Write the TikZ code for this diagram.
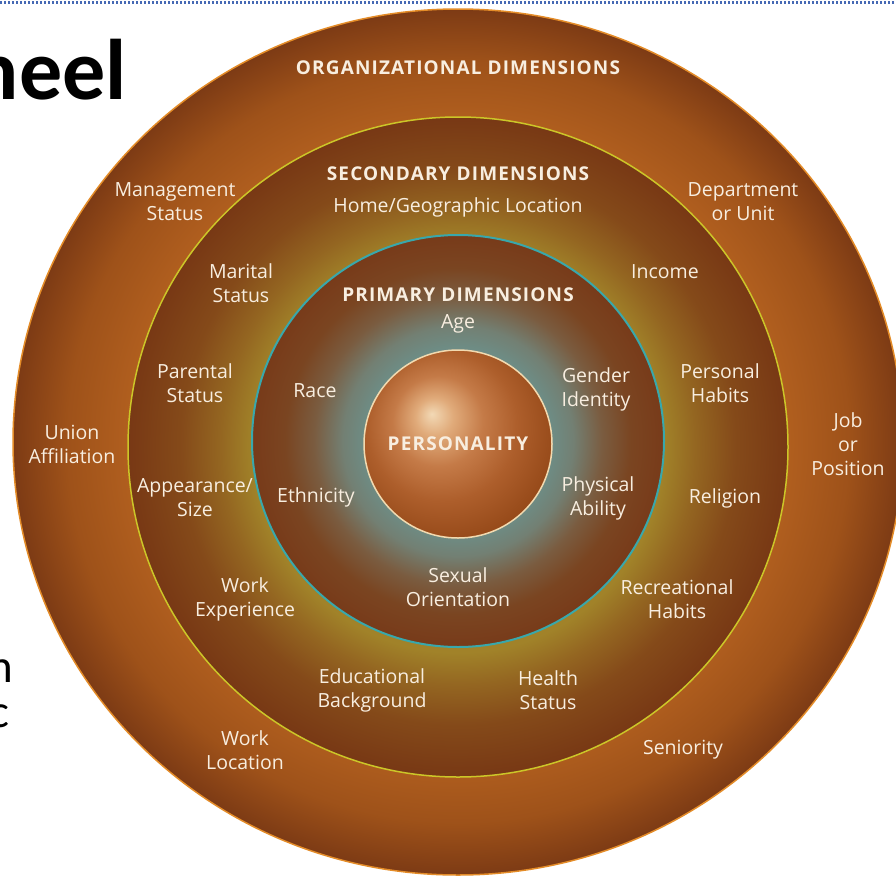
\documentclass[tikz,border=0pt]{standalone}
\usepackage{fontspec}
\newfontfamily\wheelfont{Open Sans}
\newfontfamily\headfont[LetterSpace=6]{Open Sans}
\newfontfamily\slidefont{Carlito}

% ring shadings: 25bp is the rim of the filled shape
\pgfdeclareradialshading{orgring}{\pgfpoint{0bp}{0bp}}{%
  rgb(0bp)=(0.69,0.37,0.12);
  rgb(18.6bp)=(0.69,0.37,0.12);
  rgb(22bp)=(0.62,0.32,0.10);
  rgb(25bp)=(0.49,0.23,0.08);
  rgb(50bp)=(0.49,0.23,0.08)}
\pgfdeclareradialshading{secring}{\pgfpoint{0bp}{0bp}}{%
  rgb(0bp)=(0.63,0.51,0.16);
  rgb(15.6bp)=(0.63,0.51,0.16);
  rgb(18bp)=(0.58,0.40,0.13);
  rgb(21bp)=(0.52,0.29,0.10);
  rgb(25bp)=(0.47,0.22,0.08);
  rgb(50bp)=(0.47,0.22,0.08)}
\pgfdeclareradialshading{primring}{\pgfpoint{0bp}{0bp}}{%
  rgb(0bp)=(0.43,0.55,0.52);
  rgb(11.4bp)=(0.43,0.55,0.52);
  rgb(14bp)=(0.45,0.50,0.45);
  rgb(17.5bp)=(0.48,0.36,0.25);
  rgb(21bp)=(0.48,0.27,0.13);
  rgb(25bp)=(0.47,0.23,0.10);
  rgb(50bp)=(0.47,0.23,0.10)}
\pgfdeclareradialshading{personaball}{\pgfpoint{-7bp}{8bp}}{%
  rgb(0bp)=(0.95,0.85,0.71);
  rgb(5bp)=(0.88,0.67,0.48);
  rgb(12bp)=(0.77,0.48,0.28);
  rgb(20bp)=(0.68,0.37,0.17);
  rgb(29bp)=(0.59,0.29,0.10);
  rgb(37bp)=(0.53,0.25,0.08);
  rgb(50bp)=(0.53,0.25,0.08)}

\definecolor{labelcream}{RGB}{248,238,224}
\definecolor{rimorange}{RGB}{228,140,40}
\definecolor{ringyellow}{RGB}{204,198,40}
\definecolor{ringteal}{RGB}{56,168,172}
\definecolor{ballrim}{RGB}{242,218,176}
\definecolor{dotblue}{RGB}{70,105,180}

\begin{document}
\begin{tikzpicture}[x=1pt,y=-1pt,
  lbl/.style={text=labelcream, align=center, inner sep=0pt,
    font=\wheelfont\fontsize{19.5}{24}\selectfont},
  hdr/.style={text=labelcream, align=center, inner sep=0pt,
    font=\headfont\bfseries\fontsize{19}{22}\selectfont},
  slidetext/.style={text=black, inner sep=0pt}]

\useasboundingbox (0,0) rectangle (896,878);
\clip (0,0) rectangle (896,878);
\fill[white] (0,0) rectangle (896,878);

% slide header rule and title fragment
\draw[dotblue, line width=2.5pt, dash pattern=on 1.5pt off 2.5pt] (0,2.5) -- (896,2.5);
\node[slidetext, anchor=base east, font=\slidefont\bfseries\fontsize{86}{90}\selectfont] (title) at (127,99) {heel};
\node[slidetext, anchor=base east, font=\slidefont\fontsize{47}{50}\selectfont] (frag1) at (13,682) {n};
\node[slidetext, anchor=base east, font=\slidefont\fontsize{47}{50}\selectfont] (frag2) at (10,727) {c};

% the wheel
\path[shading=orgring] (458,442) ellipse [x radius=445pt, y radius=433pt];
\draw[rimorange, line width=1.5pt] (458,442) ellipse [x radius=445pt, y radius=433pt];
\path[shading=secring] (458,447) circle [radius=330pt];
\draw[ringyellow, line width=1.5pt] (458,447) circle [radius=330pt];
\path[shading=primring] (458,441) circle [radius=206pt];
\draw[ringteal, line width=2pt] (458,441) circle [radius=206pt];
\path[shading=personaball] (458,444) circle [radius=94pt];
\draw[ballrim, line width=1.5pt] (458,444) circle [radius=94pt];

% organizational dimensions
\node[hdr] (org) at (458,68) {ORGANIZATIONAL DIMENSIONS};
\node[lbl] (mgmt) at (175,202) {Management\\Status};
\node[lbl] (dept) at (743,202) {Department\\or Unit};
\node[lbl] (union) at (72,444) {Union\\Affiliation};
\node[lbl] (job) at (848,444) {Job\\or\\Position};
\node[lbl] (workloc) at (245,750) {Work\\Location};
\node[lbl] (senior) at (683,750) {Seniority};

% secondary dimensions
\node[hdr] (sec) at (458,174) {SECONDARY DIMENSIONS};
\node[lbl] (home) at (458,207) {Home/Geographic Location};
\node[lbl] (marital) at (241,283) {Marital\\Status};
\node[lbl] (income) at (665,272) {Income};
\node[lbl] (parent) at (195,383) {Parental\\Status};
\node[lbl] (habits) at (720,383) {Personal\\Habits};
\node[lbl] (appear) at (195,498) {Appearance/\\Size};
\node[lbl] (relig) at (725,498) {Religion};
\node[lbl] (workexp) at (245,599) {Work\\Experience};
\node[lbl] (recr) at (677,599) {Recreational\\Habits};
\node[lbl] (edu) at (372,690) {Educational\\Background};
\node[lbl] (health) at (548,690) {Health\\Status};

% primary dimensions
\node[hdr] (prim) at (458,295) {PRIMARY DIMENSIONS};
\node[lbl] (age) at (458,324) {Age};
\node[lbl] (race) at (315,391) {Race};
\node[lbl] (gender) at (596,389) {Gender\\Identity};
\node[lbl] (ethn) at (316,497) {Ethnicity};
\node[lbl] (phys) at (598,498) {Physical\\Ability};
\node[lbl] (sexor) at (458,587) {Sexual\\Orientation};

% core
\node[hdr] (pers) at (458,444) {PERSONALITY};
\end{tikzpicture}
\end{document}
